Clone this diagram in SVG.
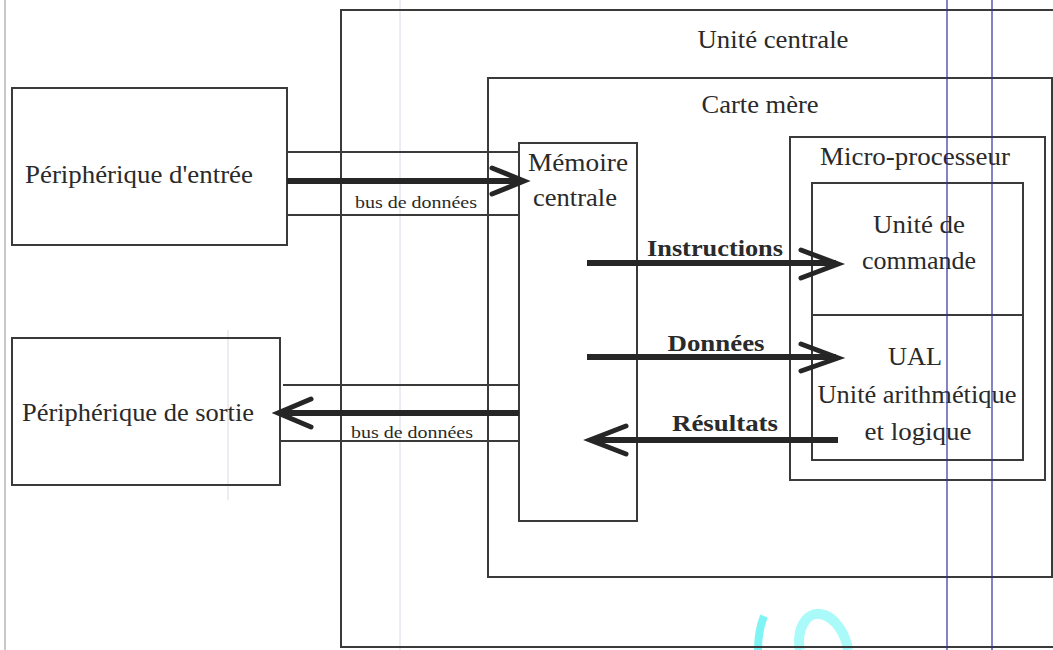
<svg xmlns="http://www.w3.org/2000/svg" width="1053" height="650" viewBox="0 0 1053 650">
<defs>
<style>
.box{fill:none;stroke:#3a3a3a;stroke-width:2}
.bus{stroke:#3a3a3a;stroke-width:2;fill:none}
.shaft{stroke:#262626;stroke-width:6;fill:none}
.head{stroke:#262626;stroke-width:5;fill:none;stroke-linecap:round;stroke-linejoin:miter}
.t{font-family:"Liberation Serif","Times New Roman",serif;fill:#2a2a2a;font-size:25px;text-anchor:middle}
.b{font-weight:bold;font-size:24px}
.s{font-size:16px}
.scan{stroke:#d8d8e4;stroke-width:1}
.blue{stroke:#3030a0;stroke-width:1.2}
</style>
</defs>
<rect width="1053" height="650" fill="#fff"/>
<g id="scan-artifacts">
<line class="scan" x1="5" y1="0" x2="5" y2="650" style="stroke:#c8c8c8;stroke-width:2"/>
<line class="scan" x1="228" y1="330" x2="228" y2="500"/>
<line class="scan" x1="400" y1="0" x2="400" y2="650"/>
<path d="M758,650 C758,638 760,626 764,616" stroke="#80f4f4" stroke-width="8" fill="none"/>
<path d="M800,650 C796,630 806,612 820,614 C836,616 846,636 848,650" stroke="#aafafa" stroke-width="10" fill="none"/>
</g>
<g id="unite-centrale">
<rect class="box" x="341" y="10" width="720" height="637"/>
<text class="t" x="773" y="48" textLength="151" lengthAdjust="spacingAndGlyphs">Unité centrale</text>
</g>
<g id="carte-mere">
<rect class="box" x="488" y="78" width="564" height="499"/>
<text class="t" x="760" y="113" textLength="117" lengthAdjust="spacingAndGlyphs">Carte mère</text>
</g>
<g id="memoire-centrale">
<rect class="box" x="519" y="143" width="118" height="378"/>
<text class="t" x="578" y="171" textLength="100" lengthAdjust="spacingAndGlyphs">Mémoire</text>
<text class="t" x="575" y="206" textLength="84" lengthAdjust="spacingAndGlyphs">centrale</text>
</g>
<g id="micro-processeur">
<rect class="box" x="790" y="137" width="255" height="343"/>
<text class="t" x="915" y="165" textLength="190" lengthAdjust="spacingAndGlyphs">Micro-processeur</text>
</g>
<g id="unite-de-commande">
<rect class="box" x="812" y="183" width="211" height="132"/>
<text class="t" x="919" y="233" textLength="92" lengthAdjust="spacingAndGlyphs">Unité de</text>
<text class="t" x="919" y="269" textLength="114" lengthAdjust="spacingAndGlyphs">commande</text>
</g>
<g id="ual">
<rect class="box" x="812" y="315" width="211" height="145"/>
<text class="t" x="915" y="365" textLength="54" lengthAdjust="spacingAndGlyphs">UAL</text>
<text class="t" x="917" y="403" textLength="199" lengthAdjust="spacingAndGlyphs">Unité arithmétique</text>
<text class="t" x="918" y="440" textLength="107" lengthAdjust="spacingAndGlyphs">et logique</text>
</g>
<g id="peripherique-entree">
<rect class="box" x="12" y="88" width="275" height="157"/>
<text class="t" x="139" y="183" textLength="228" lengthAdjust="spacingAndGlyphs">Périphérique d'entrée</text>
</g>
<g id="peripherique-sortie">
<rect class="box" x="12" y="338" width="268" height="147"/>
<text class="t" x="138" y="421" textLength="232" lengthAdjust="spacingAndGlyphs">Périphérique de sortie</text>
</g>
<g id="connectors">
<line class="bus" x1="287" y1="152" x2="519" y2="152"/>
<line class="bus" x1="287" y1="215" x2="519" y2="215"/>
<line class="shaft" x1="287" y1="181" x2="522" y2="181"/>
<polyline class="head" points="492,168 524,181 492,194"/>
<text class="t s" x="416" y="208" textLength="122" lengthAdjust="spacingAndGlyphs">bus de données</text>

<line class="bus" x1="283" y1="385" x2="519" y2="385"/>
<line class="bus" x1="280" y1="441" x2="519" y2="441"/>
<line class="shaft" x1="280" y1="413" x2="519" y2="413"/>
<polyline class="head" points="311,399 278,413 311,427"/>
<text class="t s" x="412" y="438" textLength="122" lengthAdjust="spacingAndGlyphs">bus de données</text>

<line class="shaft" x1="587" y1="263" x2="836" y2="263"/>
<polyline class="head" points="801,250 838,264 801,278"/>
<text class="t b" x="715" y="256" textLength="136" lengthAdjust="spacingAndGlyphs">Instructions</text>

<line class="shaft" x1="587" y1="357" x2="836" y2="357"/>
<polyline class="head" points="801,344 838,358 801,371"/>
<text class="t b" x="716" y="351" textLength="97" lengthAdjust="spacingAndGlyphs">Données</text>

<line class="shaft" x1="592" y1="440" x2="838" y2="440"/>
<polyline class="head" points="626,426 590,440 626,454"/>
<text class="t b" x="725" y="431" textLength="106" lengthAdjust="spacingAndGlyphs">Résultats</text>
</g>
<g id="blue-lines">
<line class="blue" x1="947" y1="0" x2="947" y2="650"/>
<line class="blue" x1="992" y1="0" x2="992" y2="650"/>
</g>
</svg>
